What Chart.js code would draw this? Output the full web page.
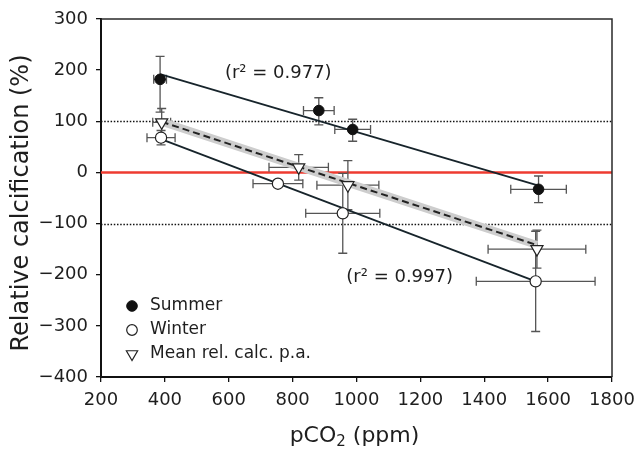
<!DOCTYPE html>
<html>
<head>
<meta charset="utf-8">
<script src="https://cdn.jsdelivr.net/npm/chart.js@4.4.1/dist/chart.umd.min.js"></script>
<style>
html, body { margin: 0; padding: 0; background: #fff; }
</style>
</head>
<body>
<canvas id="chart" width="635" height="449"></canvas>
<script>
// valores
var summerX = [385, 882, 988, 1570];
var summerY = [182, 121, 84, -33];
var summerXErr = [20, 48, 56, 87];
var summerYErrUp = [45, 25, 20, 26];
var summerYErrDown = [64, 28, 23, 26];

var winterX = [388, 754, 957, 1561];
var winterY = [68, -22, -80, -213];
var winterXErr = [44, 78, 116, 186];
var winterYErrUp = [14, 0, 78, 98];
var winterYErrDown = [14, 0, 78, 98];

var meanX = [390, 819, 973, 1565];
var meanY = [98, 10, -25, -150];
var meanXErr = [28, 93, 97, 153];
var meanYErrUp = [27, 25, 48, 37];
var meanYErrDown = [27, 25, 48, 37];

// rectas de regresion (extremos)
var summerFitX = [385, 1570];
var summerFitY = [192, -26];
var winterFitX = [388, 1561];
var winterFitY = [65, -213];
var meanFitX = [390, 1565];
var meanFitY = [99, -142];

var xTicks = [200, 400, 600, 800, 1000, 1200, 1400, 1600, 1800];
var yTicks = [-400, -300, -200, -100, 0, 100, 200, 300];
var dottedLevels = [100, -100];
var zeroLevel = 0;

var legendLabels = ['Summer', 'Winter', 'Mean rel. calc. p.a.'];
var r2Labels = ['(r\u00B2 = 0.977)', '(r\u00B2 = 0.997)'];
var r2AnchorX = [588, 968];
var r2AnchorY = [193, -205];

var FONT = '"DejaVu Sans", "Liberation Sans", Arial, sans-serif';

function pts(xs, ys) {
    return xs.map(function(x, i) { return { x: x, y: ys[i] }; });
}

var errorSets = [
    { x: summerX, y: summerY, xe: summerXErr, up: summerYErrUp, down: summerYErrDown },
    { x: winterX, y: winterY, xe: winterXErr, up: winterYErrUp, down: winterYErrDown },
    { x: meanX, y: meanY, xe: meanXErr, up: meanYErrUp, down: meanYErrDown }
];

// barras de error, lineas de referencia y marco
var backgroundPlugin = {
    id: 'background',
    beforeDatasetsDraw: function(chart) {
        var ctx = chart.ctx;
        var xs = chart.scales.x, ys = chart.scales.y;
        var area = chart.chartArea;
        ctx.save();

        // lineas punteadas
        ctx.strokeStyle = '#111';
        ctx.lineWidth = 1.5;
        ctx.setLineDash([1.5, 1.7]);
        dottedLevels.forEach(function(v) {
            var py = Math.round(ys.getPixelForValue(v)) + 0.5;
            ctx.beginPath();
            ctx.moveTo(area.left, py);
            ctx.lineTo(area.right, py);
            ctx.stroke();
        });
        ctx.setLineDash([]);

        // linea roja en cero
        var pz = ys.getPixelForValue(zeroLevel);
        ctx.strokeStyle = '#ee3b30';
        ctx.lineWidth = 2.4;
        ctx.beginPath();
        ctx.moveTo(area.left, pz);
        ctx.lineTo(area.right, pz);
        ctx.stroke();

        // marco superior y derecho
        ctx.strokeStyle = '#2a2a2a';
        ctx.lineWidth = 1.5;
        ctx.beginPath();
        ctx.moveTo(area.left, area.top);
        ctx.lineTo(area.right, area.top);
        ctx.lineTo(area.right, area.bottom);
        ctx.stroke();

        // barras de error
        ctx.strokeStyle = '#555';
        ctx.lineWidth = 1.3;
        var cap = 4.5;
        errorSets.forEach(function(s) {
            s.x.forEach(function(xv, i) {
                var px = xs.getPixelForValue(xv);
                var py = ys.getPixelForValue(s.y[i]);
                if (s.xe[i] > 0) {
                    var x1 = xs.getPixelForValue(xv - s.xe[i]);
                    var x2 = xs.getPixelForValue(xv + s.xe[i]);
                    ctx.beginPath();
                    ctx.moveTo(x1, py); ctx.lineTo(x2, py);
                    ctx.moveTo(x1, py - cap); ctx.lineTo(x1, py + cap);
                    ctx.moveTo(x2, py - cap); ctx.lineTo(x2, py + cap);
                    ctx.stroke();
                }
                if (s.up[i] > 0 || s.down[i] > 0) {
                    var y1 = ys.getPixelForValue(s.y[i] + s.up[i]);
                    var y2 = ys.getPixelForValue(s.y[i] - s.down[i]);
                    ctx.beginPath();
                    ctx.moveTo(px, y1); ctx.lineTo(px, y2);
                    ctx.moveTo(px - cap, y1); ctx.lineTo(px + cap, y1);
                    ctx.moveTo(px - cap, y2); ctx.lineTo(px + cap, y2);
                    ctx.stroke();
                }
            });
        });
        ctx.restore();
    }
};

// leyenda, anotaciones y titulos de ejes
var textPlugin = {
    id: 'texts',
    afterDraw: function(chart) {
        var ctx = chart.ctx;
        var xs = chart.scales.x, ys = chart.scales.y;
        var area = chart.chartArea;
        ctx.save();
        ctx.fillStyle = '#1e1e1e';

        // anotaciones r2
        ctx.font = '18px ' + FONT;
        ctx.textAlign = 'left';
        ctx.textBaseline = 'middle';
        r2Labels.forEach(function(t, i) {
            ctx.fillText(t, xs.getPixelForValue(r2AnchorX[i]), ys.getPixelForValue(r2AnchorY[i]));
        });

        // leyenda
        var styles = [
            { pointStyle: 'circle', radius: 5.3, rotation: 0, borderWidth: 1, fill: '#111', stroke: '#111' },
            { pointStyle: 'circle', radius: 5.3, rotation: 0, borderWidth: 1.2, fill: '#fff', stroke: '#222' },
            { pointStyle: 'triangle', radius: 6.5, rotation: 180, borderWidth: 1.2, fill: '#fff', stroke: '#222' }
        ];
        ctx.font = '17px ' + FONT;
        legendLabels.forEach(function(t, i) {
            var ly = area.top + 287 + i * 24;
            var st = styles[i];
            ctx.fillStyle = st.fill;
            ctx.strokeStyle = st.stroke;
            ctx.lineWidth = st.borderWidth;
            Chart.helpers.drawPoint(ctx, st, area.left + 31, ly);
            ctx.fillStyle = '#1e1e1e';
            ctx.fillText(t, area.left + 49, ly);
        });

        // titulo eje y
        ctx.save();
        ctx.translate(22, 203);
        ctx.rotate(-Math.PI / 2);
        ctx.textAlign = 'center';
        ctx.textBaseline = 'middle';
        ctx.font = '24px ' + FONT;
        ctx.fillText('Relative calcification (%)', 0, 0);
        ctx.restore();

        // titulo eje x con subindice
        var big = '22px ' + FONT, small = '15px ' + FONT;
        ctx.textBaseline = 'alphabetic';
        ctx.textAlign = 'left';
        ctx.font = big;
        var w1 = ctx.measureText('pCO').width;
        var w3 = ctx.measureText(' (ppm)').width;
        ctx.font = small;
        var w2 = ctx.measureText('2').width;
        var cx = (area.left + area.right) / 2 - 2;
        var x0 = cx - (w1 + w2 + w3) / 2;
        var base = 442;
        ctx.font = big;
        ctx.fillText('pCO', x0, base);
        ctx.font = small;
        ctx.fillText('2', x0 + w1, base + 4);
        ctx.font = big;
        ctx.fillText(' (ppm)', x0 + w1 + w2, base);
        ctx.restore();
    }
};

var ctx = document.getElementById('chart').getContext('2d');

new Chart(ctx, {
    type: 'scatter',
    data: {
        datasets: [
            {
                label: 'Summer', data: pts(summerX, summerY),
                pointStyle: 'circle', pointRadius: 5.3,
                backgroundColor: '#111', borderColor: '#111', borderWidth: 1, order: 0
            },
            {
                label: 'Winter', data: pts(winterX, winterY),
                pointStyle: 'circle', pointRadius: 5.6,
                backgroundColor: '#fff', borderColor: '#222', borderWidth: 1.2, order: 0
            },
            {
                label: 'Mean rel. calc. p.a.', data: pts(meanX, meanY),
                pointStyle: 'triangle', pointRotation: 180, pointRadius: 7,
                backgroundColor: '#fff', borderColor: '#222', borderWidth: 1.2, order: 0
            },
            {
                label: 'band', data: pts(meanFitX, meanFitY), showLine: true,
                borderColor: '#cdcdcd', borderWidth: 8, pointRadius: 0, order: 5
            },
            {
                label: 'meanFit', data: pts(meanFitX, meanFitY), showLine: true,
                borderColor: '#222', borderWidth: 2, borderDash: [7, 4], pointRadius: 0, order: 3
            },
            {
                label: 'summerFit', data: pts(summerFitX, summerFitY), showLine: true,
                borderColor: '#17242b', borderWidth: 1.8, pointRadius: 0, order: 3
            },
            {
                label: 'winterFit', data: pts(winterFitX, winterFitY), showLine: true,
                borderColor: '#17242b', borderWidth: 1.8, pointRadius: 0, order: 3
            }
        ]
    },
    options: {
        responsive: false,
        animation: false,
        devicePixelRatio: 1,
        layout: { padding: { top: 19, right: 23, left: 0, bottom: 0 } },
        plugins: {
            legend: { display: false },
            tooltip: { enabled: false }
        },
        scales: {
            x: {
                type: 'linear', min: 200, max: 1800,
                afterFit: function(scale) {
                    scale.height = 72;
                    scale.paddingLeft = 0;
                    scale.paddingRight = 0;
                },
                afterBuildTicks: function(scale) {
                    scale.ticks = xTicks.map(function(v) { return { value: v }; });
                },
                grid: { drawOnChartArea: false, drawTicks: true, tickLength: 5, color: '#111', lineWidth: 1.3 },
                border: { display: true, color: '#111', width: 2 },
                ticks: {
                    color: '#1e1e1e', padding: 8, maxRotation: 0, font: { family: FONT, size: 18 },
                    callback: function(v) { return String(v); }
                }
            },
            y: {
                type: 'linear', min: -400, max: 300,
                afterFit: function(scale) {
                    scale.width = 101;
                    scale.paddingTop = 0;
                    scale.paddingBottom = 0;
                },
                afterBuildTicks: function(scale) {
                    scale.ticks = yTicks.map(function(v) { return { value: v }; });
                },
                grid: { drawOnChartArea: false, drawTicks: true, tickLength: 5, color: '#111', lineWidth: 1.3 },
                border: { display: true, color: '#111', width: 2 },
                ticks: {
                    color: '#1e1e1e', padding: 8, font: { family: FONT, size: 18 },
                    callback: function(v) { return String(v).replace('-', '\u2212'); }
                }
            }
        }
    },
    plugins: [backgroundPlugin, textPlugin]
});
</script>
</body>
</html>
